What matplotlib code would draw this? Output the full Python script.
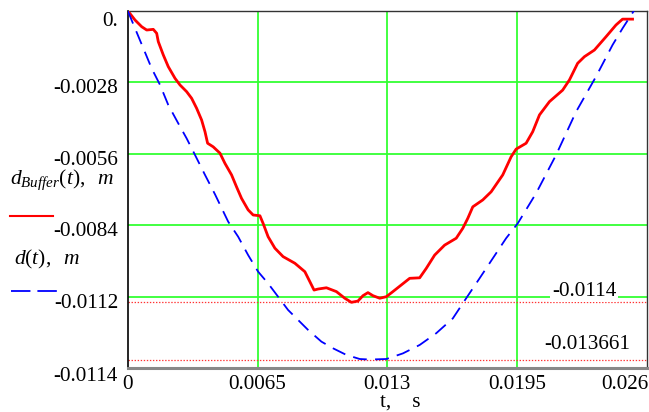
import matplotlib
matplotlib.use("Agg")
import matplotlib.pyplot as plt
from matplotlib.lines import Line2D
from matplotlib.transforms import ScaledTranslation

# data (t in s, d in m)
t_buf = [0, 0.000365, 0.0007, 0.00095, 0.00128, 0.00145, 0.00153, 0.00178, 0.00203, 0.00237,
         0.00262, 0.00295, 0.0032, 0.00345, 0.0037, 0.00387, 0.004, 0.00428, 0.00462, 0.00487,
         0.0052, 0.00545, 0.0057, 0.00603, 0.00628, 0.00662, 0.00678, 0.00703, 0.00737, 0.00778,
         0.00837, 0.00887, 0.00912, 0.00933, 0.00953, 0.00995, 0.01045, 0.01087, 0.0112, 0.01153,
         0.01178, 0.01203, 0.01228, 0.01262, 0.01295, 0.01328, 0.0137, 0.01412, 0.01462, 0.01495,
         0.01537, 0.01587, 0.01645, 0.01678, 0.01703, 0.01728, 0.01778, 0.0182, 0.01878, 0.0192,
         0.01945, 0.01995, 0.02028, 0.02062, 0.02112, 0.02178, 0.02212, 0.02253, 0.02287, 0.02337,
         0.02395, 0.02445, 0.02478, 0.02528]
d_buf = [0, -0.000364, -0.000627, -0.000756, -0.00073, -0.000885, -0.00121, -0.00173, -0.00219, -0.00265,
         -0.00291, -0.00317, -0.00343, -0.00382, -0.00428, -0.00474, -0.00519, -0.00533, -0.00558, -0.00598,
         -0.00643, -0.0069, -0.00735, -0.0078, -0.008, -0.00803, -0.00833, -0.00885, -0.0093, -0.00963,
         -0.00989, -0.01022, -0.01061, -0.01094, -0.0109, -0.01085, -0.011, -0.01126, -0.01142, -0.01137,
         -0.01116, -0.01104, -0.01116, -0.01126, -0.0112, -0.011, -0.01074, -0.01048, -0.01046, -0.01009,
         -0.00957, -0.00918, -0.00891, -0.00852, -0.00813, -0.00768, -0.00741, -0.00709, -0.00643, -0.00572,
         -0.00542, -0.00519, -0.00474, -0.00408, -0.00356, -0.00311, -0.00271, -0.00206, -0.0018, -0.00154,
         -0.00102, -0.00056, -0.00033, -0.00033]

t_d = [0, 0.000365, 0.00078, 0.0012, 0.00162, 0.00203, 0.00253, 0.00295, 0.00337, 0.00387,
       0.00437, 0.00503, 0.00553, 0.00603, 0.00653, 0.00703, 0.00753, 0.00803, 0.00853, 0.00903,
       0.0097, 0.01028, 0.01095, 0.01162, 0.01212, 0.01295, 0.01378, 0.01462, 0.01545, 0.01628,
       0.01695, 0.01762, 0.01828, 0.01895, 0.01953, 0.02045, 0.02145, 0.02245, 0.02345, 0.02428,
       0.02478, 0.02535]
d_d = [0, -0.00069, -0.00147, -0.00226, -0.00291, -0.00369, -0.00441, -0.005, -0.00565, -0.00643,
       -0.00719, -0.00826, -0.00885, -0.00957, -0.01022, -0.01068, -0.0112, -0.01172, -0.01211, -0.0125,
       -0.01296, -0.01322, -0.01348, -0.01364, -0.01366, -0.01364, -0.01342, -0.01309, -0.01263, -0.01205,
       -0.01126, -0.01048, -0.0097, -0.00891, -0.00833, -0.00715, -0.00565, -0.00396, -0.00258, -0.00134,
       -0.00069, 0.0]

markers = [-0.0114, -0.013661]
marker_labels = ['-0.0114', '-0.013661']

xticks = [0, 0.0065, 0.013, 0.0195, 0.026]
xlabels = ['0', '0.0065', '0.013', '0.0195', '0.026']
yticks = [0, -0.0028, -0.0056, -0.0084, -0.0112, -0.014]
ylabels = ['0.', '-0.0028', '-0.0056', '-0.0084', '-0.0112', '-0.0114']


def plot():
	plt.rcParams['font.family'] = ['Liberation Serif', 'DejaVu Serif']
	plt.rcParams['mathtext.fontset'] = 'custom'
	plt.rcParams['mathtext.rm'] = 'Liberation Serif'
	plt.rcParams['mathtext.it'] = 'Liberation Serif:italic'
	plt.rcParams['lines.scale_dashes'] = False

	fs = 15.2
	fig = plt.figure(figsize=(6.49, 4.12), dpi=100)
	ax = fig.add_axes([0.1968, 0.1063, 0.8, 0.8677])

# grid and marker lines

	for x in xticks[1:-1]:
		ax.axvline(x, color='#33ff33', lw=1.3, zorder=1)
	for y in yticks[1:-1]:
		ax.axhline(y, color='#33ff33', lw=1.3, zorder=1)
	for y in markers:
		ax.axhline(y, color='#ff3333', lw=0.9, ls=(0, (1, 1.2)), zorder=1)

# curves

	ax.plot(t_buf, d_buf, color='red', lw=2.0, zorder=3)
	ax.plot(t_d, d_d, color='blue', lw=1.3, dashes=(10, 6), zorder=3)

	ax.set_xlim(0, 0.026)
	ax.set_ylim(-0.014, 0)

	ax.set_xticks(xticks)
	ax.set_xticklabels(xlabels, fontsize=fs)
	ax.set_yticks(yticks)
	ax.set_yticklabels(ylabels, fontsize=fs)
	ax.tick_params(length=0, pad=7)
	ax.tick_params(axis='x', pad=5)
	xl = ax.get_xticklabels()
	xl[-1].set_horizontalalignment('right')
	xl[-1].set_transform(xl[-1].get_transform() + ScaledTranslation(0.02, 0, fig.dpi_scale_trans))
	for i, lab in enumerate(ax.get_yticklabels()):
		dy = -0.08 if i == 0 else (-0.06 if i == len(yticks) - 1 else -0.04)
		lab.set_transform(lab.get_transform() + ScaledTranslation(0, dy, fig.dpi_scale_trans))

	for s in ['top', 'right']:
		ax.spines[s].set_color('#333333')
		ax.spines[s].set_linewidth(1.0)
	ax.spines['left'].set_color('black')
	ax.spines['left'].set_linewidth(1.2)
	ax.spines['bottom'].set_color('#888888')
	ax.spines['bottom'].set_linewidth(2.2)

# marker values on the right

	ax.text(0.02285, -0.01098, marker_labels[0], fontsize=fs, ha='center', va='center',
		bbox=dict(facecolor='white', edgecolor='none', pad=1.0), zorder=2)
	ax.text(0.02302, -0.01309, marker_labels[1], fontsize=fs, ha='center', va='center', zorder=2)

# axis title and legend on the left

	fig.text(0.617, 1 - 407 / 412, 't,    s', fontsize=fs, ha='center', va='baseline')
	fig.text(0.016, 1 - 180 / 412, r'$d_{Buffer}(t),\ \ m$', fontsize=15.5, ha='left', va='center')
	fig.text(0.022, 1 - 259 / 412, r'$d(t),\ \ m$', fontsize=15.5, ha='left', va='center')
	fig.add_artist(Line2D([10 / 649, 53 / 649], [1 - 216 / 412] * 2, color='red', lw=1.5))
	fig.add_artist(Line2D([11 / 649, 58 / 649], [1 - 291 / 412] * 2, color='blue', lw=1.3, dashes=(14, 5)))

	fig.savefig('out.png', dpi=100)


if __name__ == "__main__":
	plot()
